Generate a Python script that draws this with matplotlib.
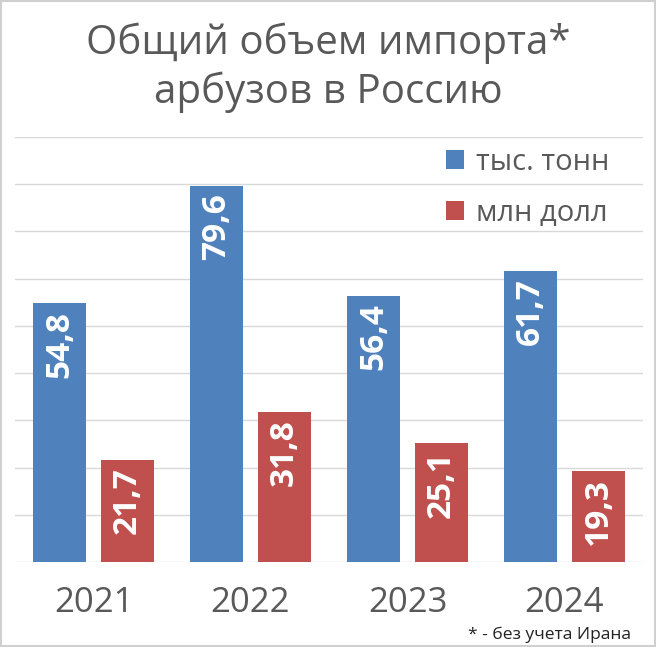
import numpy as np
import matplotlib.pyplot as plt
from matplotlib.patches import Rectangle

plt.rcParams['font.family'] = ['Open Sans', 'DejaVu Sans']

years = ['2021', '2022', '2023', '2024']
tonnes = [54.8, 79.6, 56.4, 61.7]   # тыс. тонн
dollars = [21.7, 31.8, 25.1, 19.3]  # млн долл

blue = '#4F81BD'
red = '#C0504D'
grey = '#595959'

fig = plt.figure(figsize=(6.56, 6.47), dpi=100)
ax = fig.add_axes([15 / 656, 85 / 647, 628 / 656, 425 / 647])

x = np.arange(len(years))
w = 0.34
off = 0.215
b1 = ax.bar(x - off, tonnes, w, color=blue, label='тыс. тонн')
b2 = ax.bar(x + off, dollars, w, color=red, label='млн долл')

for bars, vals in ((b1, tonnes), (b2, dollars)):
    for r, v in zip(bars, vals):
        ax.text(r.get_x() + r.get_width() / 2, r.get_height() - 1.6,
                f'{v:.1f}'.replace('.', ','), rotation=90, ha='center',
                va='top', color='white', fontsize=24, fontweight='bold')

ax.set_xlim(-0.5, 3.5)
ax.set_ylim(0, 90)
ax.set_yticks(np.arange(0, 91, 10))
ax.yaxis.grid(True, color='#D9D9D9', lw=1)
ax.set_axisbelow(True)
ax.tick_params(left=False, labelleft=False, bottom=False)
ax.set_xticks(x)
ax.set_xticklabels(years, fontsize=25, color=grey)
ax.tick_params(axis='x', pad=14)
for s in ax.spines.values():
    s.set_visible(False)

ax.legend(loc='upper left', bbox_to_anchor=(446 / 656, 1 - 148 / 647),
          bbox_transform=fig.transFigure, frameon=False, borderpad=0,
          borderaxespad=0, fontsize=21, labelcolor=grey, handlelength=0.62,
          handleheight=0.62, handletextpad=0.4, labelspacing=0.75)

fig.text(0.5, 1 - 54 / 647, 'Общий объем импорта*', ha='center', va='baseline',
         fontsize=29, color=grey)
fig.text(0.5, 1 - 103 / 647, 'арбузов в Россию', ha='center', va='baseline',
         fontsize=29, color=grey)
fig.text(631 / 656, 1 - 643 / 647, '* - без учета Ирана', ha='right', va='bottom',
         fontsize=12.5, color='#222222')

fig.patches.append(Rectangle((0.001, 0.001), 0.997, 0.997, transform=fig.transFigure,
                             fill=False, ec='#D0D0D0', lw=1.5))

fig.savefig('out.png', dpi=100)
